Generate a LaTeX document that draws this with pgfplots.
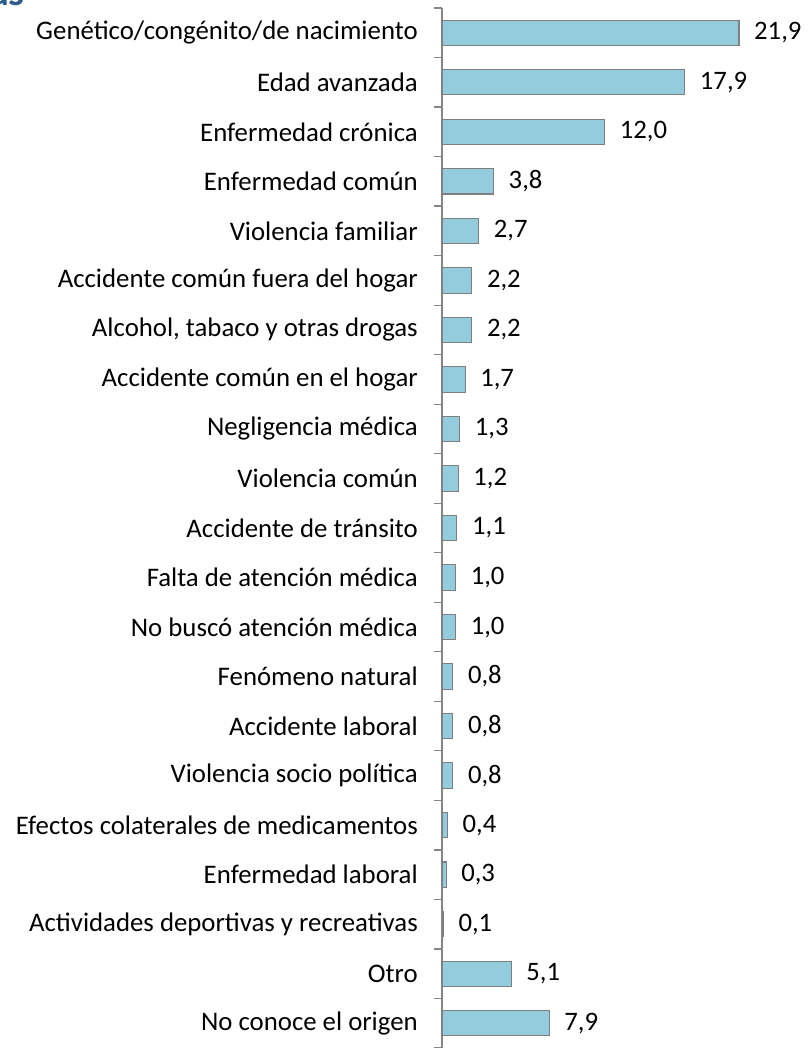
\documentclass[border=0pt]{standalone}
\usepackage{pgfplots}
\pgfplotsset{compat=1.18}
\usepackage{fontspec}
\setmainfont{Carlito}
\definecolor{barfill}{HTML}{93CDDD}
\definecolor{barline}{HTML}{7F7F7F}
\definecolor{axisgrey}{HTML}{868686}
\definecolor{titleblue}{HTML}{2E5C8A}
\begin{document}
\begin{tikzpicture}[x=0.75pt,y=0.75pt]
\path[use as bounding box] (0,0) rectangle (809,1048);
\node[anchor=base east, font=\bfseries\fontsize{30}{30}\selectfont, text=titleblue, inner sep=0pt] at (25,1042) {as};
\begin{axis}[
  at={(442*0.75pt,0pt)}, anchor=south west,
  scale only axis, width=275.25pt, height=780pt,
  xmin=0, xmax=27.06,
  ymin=-0.5, ymax=20.5, y dir=reverse,
  xbar, bar width=19pt,
  axis x line=none,
  axis y line*=left,
  axis line style={axisgrey, line width=0.9pt},
  ytick={0,...,20},
  yticklabels={Genético/congénito/de nacimiento, Edad avanzada, Enfermedad crónica, Enfermedad común, Violencia familiar, Accidente común fuera del hogar, {Alcohol, tabaco y otras drogas}, Accidente común en el hogar, Negligencia médica, Violencia común, Accidente de tránsito, Falta de atención médica, No buscó atención médica, Fenómeno natural, Accidente laboral, Violencia socio política, Efectos colaterales de medicamentos, Enfermedad laboral, Actividades deportivas y recreativas, Otro, No conoce el origen},
  major tick length=0pt,
  minor ytick={-0.5,0.5,...,20.5},
  minor tick length=6pt,
  tick align=outside,
  tick style={axisgrey, line width=0.9pt},
  yticklabel style={font=\fontsize{20.1}{20}\selectfont, inner sep=0pt, xshift=-18pt, anchor=east},
  nodes near coords,
  nodes near coords style={font=\fontsize{20}{20}\selectfont, anchor=west, inner sep=0pt, xshift=11pt},
  /pgf/number format/.cd, fixed, fixed zerofill, precision=1, use comma, assume math mode=true,
]
\addplot[fill=barfill, draw=barline, line width=0.8pt] coordinates {
(21.9,0) (17.9,1) (12.0,2) (3.8,3) (2.7,4) (2.2,5) (2.2,6) (1.7,7) (1.3,8) (1.2,9) (1.1,10) (1.0,11) (1.0,12) (0.8,13) (0.8,14) (0.8,15) (0.4,16) (0.3,17) (0.1,18) (5.1,19) (7.9,20)
};
\end{axis}
\end{tikzpicture}
\end{document}
